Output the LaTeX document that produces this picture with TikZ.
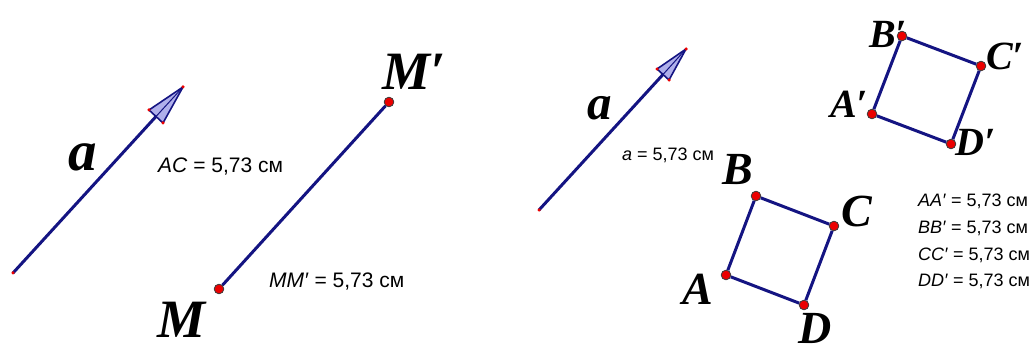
\documentclass[tikz,border=0pt]{standalone}
\usepackage{fontspec}
\setmainfont{Liberation Sans}
\newfontfamily\lblfont{Liberation Serif}
\usetikzlibrary{calc}
\definecolor{vecblue}{RGB}{20,20,130}
\definecolor{headfill}{RGB}{175,175,235}
\definecolor{ptred}{RGB}{235,0,0}
\tikzset{
  pt/.style={circle, fill=ptred, draw=black!75, line width=0.7pt, inner sep=0pt, minimum size=9.5pt},
  endpt/.style={circle, fill=ptred, inner sep=0pt, minimum size=3.5pt},
  seg/.style={draw=vecblue, line width=3pt},
  head/.style={fill=headfill, draw=vecblue, line width=1.6pt, line join=round},
  lbl/.style={font=\lblfont\bfseries\itshape\fontsize{#1}{#1}\selectfont, inner sep=0pt},
  meas/.style={font=\fontsize{#1}{#1}\selectfont, inner sep=0pt, anchor=west},
}
\begin{document}
\begin{tikzpicture}[x=1pt,y=-1pt]
\useasboundingbox (0,0) rectangle (1031,347);
% vector a, left
\coordinate (t1) at (13,273);
\coordinate (h1) at (183,87);
\coordinate (l1) at (149,110);
\coordinate (r1) at (163,123);
\coordinate (m1) at ($(l1)!0.5!(r1)$);
\draw[seg] (t1) -- (m1);
\filldraw[head] (h1) -- (l1) -- (r1) -- cycle;
\draw[vecblue, line width=1pt] (h1) -- (m1);
\foreach \p in {t1,h1,l1,r1} \node[endpt] at (\p) {};
\node[lbl=57] (a1) at (83,157) {a};
\node[meas=21] (ac) at (158,167) {\textit{AC} = 5,73 см};
% segment MM'
\node[pt] (M) at (219,289) {};
\node[pt] (M1) at (389,102) {};
\draw[seg] (M) -- (M1);
\node[pt] at (M) {};
\node[pt] at (M1) {};
\node[lbl=54] (lM) at (182,320) {M};
\node[lbl=54] (lM1) at (414,72) {M′};
\node[meas=21] (mm) at (269,282) {\textit{MM′} = 5,73 см};
% vector a, right
\coordinate (t2) at (539,210);
\coordinate (h2) at (686,49);
\coordinate (l2) at (657,69);
\coordinate (r2) at (669,80);
\coordinate (m2) at ($(l2)!0.5!(r2)$);
\draw[seg] (t2) -- (m2);
\filldraw[head] (h2) -- (l2) -- (r2) -- cycle;
\draw[vecblue, line width=1pt] (h2) -- (m2);
\foreach \p in {t2,h2,l2,r2} \node[endpt] at (\p) {};
\node[lbl=49] (a2) at (600,108) {a};
\node[meas=18] (aa) at (622,155) {\textit{a} = 5,73 см};
% square ABCD
\node[pt] (A) at (726,275) {};
\node[pt] (B) at (756,196) {};
\node[pt] (C) at (834,226) {};
\node[pt] (D) at (804,305) {};
\draw[seg] (A) -- (B) -- (C) -- (D) -- (A);
\foreach \p in {A,B,C,D} \node[pt] at (\p) {};
\node[lbl=46] (lA) at (698,289) {A};
\node[lbl=46] (lB) at (738,170) {B};
\node[lbl=46] (lC) at (857,211) {C};
\node[lbl=46] (lD) at (815,328) {D};
% square A'B'C'D'
\node[pt] (A1) at (872,114) {};
\node[pt] (B1) at (902,36) {};
\node[pt] (C1) at (981,66) {};
\node[pt] (D1) at (951,144) {};
\draw[seg] (A1) -- (B1) -- (C1) -- (D1) -- (A1);
\foreach \p in {A1,B1,C1,D1} \node[pt] at (\p) {};
\node[lbl=40] (lA1) at (849,104) {A′};
\node[lbl=40] (lB1) at (888,34) {B′};
\node[lbl=40] (lC1) at (1005,56) {C′};
\node[lbl=40] (lD1) at (976,142) {D′};
% lengths
\node[meas=18] (d1) at (918,201) {\textit{AA′} = 5,73 см};
\node[meas=18] (d2) at (918,228) {\textit{BB′} = 5,73 см};
\node[meas=18] (d3) at (918,255) {\textit{CC′} = 5,73 см};
\node[meas=18] (d4) at (918,281) {\textit{DD′} = 5,73 см};
\end{tikzpicture}
\end{document}
